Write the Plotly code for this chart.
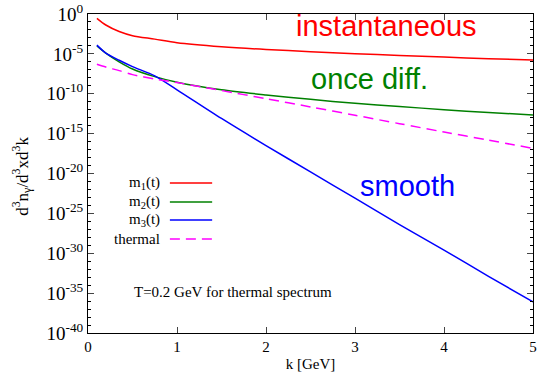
import numpy as np
import plotly.graph_objects as go

# k values [GeV]
k = [0.1, 0.2, 0.35, 0.5, 0.75, 1.0, 1.5, 2.0, 2.5, 3.0, 3.5, 4.0, 4.5, 5.0]
# log10 of d3n/d3xd3k for each curve
m1_log = [-0.54, -1.38, -2.2, -2.72, -3.15, -3.6, -4.1, -4.45, -4.72, -4.98, -5.2, -5.4, -5.6, -5.77]
m2_log = [-4.0, -4.9, -6.0, -6.9, -7.85, -8.55, -9.5, -10.15, -10.7, -11.2, -11.6, -12.0, -12.35, -12.65]
m3_log = [-3.9, -4.9, -5.8, -6.6, -7.75, -9.5, -13.1, -16.5, -19.8, -23.1, -26.4, -29.6, -32.9, -36.1]
th_log = [-6.3, -6.65, -7.1, -7.6, -8.15, -8.6, -9.6, -10.62, -11.65, -12.7, -13.75, -14.8, -15.82, -16.85]

legend_names = ["m<sub>1</sub>(t)", "m<sub>2</sub>(t)", "m<sub>3</sub>(t)", "thermal"]
colors = ["#ff0000", "#008000", "#0000ff", "#ff00ff"]
dashes = ["solid", "solid", "solid", "10px,6px"]
series = [m1_log, m2_log, m3_log, th_log]

major_exp = list(range(0, -41, -5))
major_vals = [10.0 ** e for e in major_exp]
major_text = ["10<sup>%d</sup>" % e for e in major_exp]
minor_vals = [10.0 ** e for e in range(0, -41, -1)]

SERIF = "Liberation Serif"
SANS = "Liberation Sans"

fig = go.Figure()
for name, col, dsh, ys in zip(legend_names, colors, dashes, series):
    fig.add_trace(go.Scatter(
        x=k, y=10.0 ** np.array(ys), mode="lines", name=name,
        line=dict(color=col, width=1.5, dash=dsh, shape="spline", smoothing=0.8),
        showlegend=False))

# manual legend (text at left, sample at right as in the original)
leg_y = [0.470, 0.411, 0.354, 0.295]
for name, col, dsh, yy in zip(legend_names, colors, dashes, leg_y):
    fig.add_annotation(xref="paper", yref="paper", x=0.166, y=yy, text=name,
                       showarrow=False, xanchor="right", yanchor="middle",
                       font=dict(family=SERIF, size=15, color="black"))
    fig.add_shape(type="line", xref="paper", yref="paper", x0=0.184, x1=0.279,
                  y0=yy, y1=yy, line=dict(color=col, width=1.5, dash=dsh))

fig.add_annotation(xref="paper", yref="paper", x=0.670, y=0.962, text="instantaneous",
                   showarrow=False, xanchor="center", yanchor="middle",
                   font=dict(family=SANS, size=29, color="#ff0000"))
fig.add_annotation(xref="paper", yref="paper", x=0.632, y=0.796, text="once diff.",
                   showarrow=False, xanchor="center", yanchor="middle",
                   font=dict(family=SANS, size=29, color="#008000"))
fig.add_annotation(xref="paper", yref="paper", x=0.718, y=0.461, text="smooth",
                   showarrow=False, xanchor="center", yanchor="middle",
                   font=dict(family=SANS, size=29, color="#0000ff"))
fig.add_annotation(xref="paper", yref="paper", x=0.098, y=0.128,
                   text="T=0.2 GeV for thermal spectrum",
                   showarrow=False, xanchor="left", yanchor="middle",
                   font=dict(family=SERIF, size=15, color="black"))
# y-axis title
fig.add_annotation(xref="paper", yref="paper", x=-0.148, y=0.49, textangle=-90,
                   text="d<sup>3</sup>n<sub>γ</sub>/d<sup>3</sup>xd<sup>3</sup>k",
                   showarrow=False, xanchor="center", yanchor="middle",
                   font=dict(family=SERIF, size=17, color="black"))

fig.update_xaxes(range=[0, 5], tickvals=[0, 1, 2, 3, 4, 5], ticks="inside", ticklen=6,
                 showline=True, linecolor="black", linewidth=1, mirror="allticks",
                 showgrid=False, zeroline=False, automargin=False,
                 tickfont=dict(family=SERIF, size=15, color="black"),
                 title=dict(text="k [GeV]", font=dict(family=SERIF, size=15, color="black"),
                            standoff=4))
fig.update_yaxes(type="log", range=[-40, 0], tickmode="array", tickvals=major_vals,
                 ticktext=major_text, ticks="inside", ticklen=6,
                 minor=dict(tickmode="array", tickvals=minor_vals, ticks="inside", ticklen=3,
                            tickcolor="black", showgrid=False),
                 showline=True, linecolor="black", linewidth=1, mirror="allticks",
                 showgrid=False, zeroline=False, automargin=False,
                 tickfont=dict(family=SERIF, size=19, color="black"))

fig.update_layout(width=539, height=383, margin=dict(l=88, r=6, t=14, b=50),
                  plot_bgcolor="white", paper_bgcolor="white", showlegend=False)

fig.write_html("out.html", config={"displayModeBar": False},
               post_script="document.body.style.margin='0px';")
